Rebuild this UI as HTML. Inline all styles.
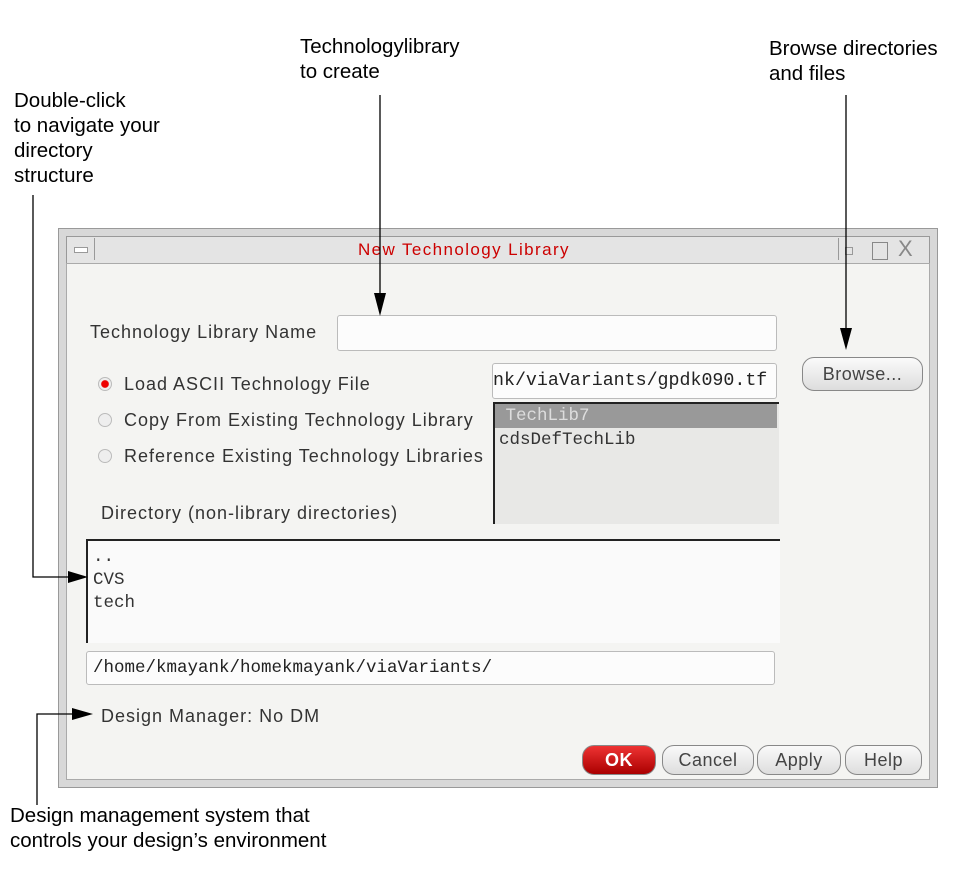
<!DOCTYPE html><html><head><style>
body{margin:0;width:958px;height:871px;background:#fff;position:relative;font-family:"Liberation Sans",sans-serif;overflow:hidden}
.a{position:absolute}
.t{font-size:20.5px;color:#000;line-height:25px;white-space:nowrap}
.d{font-size:18px;letter-spacing:1px;color:#333;white-space:nowrap}
.m{font-family:"Liberation Mono",monospace;font-size:17.5px;color:#333;white-space:nowrap}
.fld{background:#fcfcfc;border:1px solid #bbb;border-radius:3px}
.btn{border:1px solid #888;border-radius:12px;background:linear-gradient(#fafafa,#ddd);font-size:18px;letter-spacing:.5px;color:#444;text-align:center;line-height:32px;height:32px}
.rad{width:12px;height:12px;border-radius:50%;border:1px solid #bbb;background:#eee}
</style></head><body>
<div class="a t" style="left:300px;top:34px">Technologylibrary<br>to create</div>
<div class="a t" style="left:769px;top:36px">Browse directories<br>and files</div>
<div class="a t" style="left:14px;top:88px">Double-click<br>to navigate your<br>directory<br>structure</div>
<div class="a t" style="left:10px;top:803px">Design management system that<br>controls your design’s environment</div>

<div class="a" style="left:58px;top:228px;width:878px;height:558px;background:#d8d8d8;border:1px solid #999"></div>
<div class="a" style="left:66px;top:236px;width:862px;height:26px;background:#e4e4e4;border:1px solid #999"></div>
<div class="a" style="left:68px;top:238px;width:26px;height:22px;border-right:1px solid #999"></div>
<div class="a" style="left:74px;top:247px;width:12px;height:4px;border:1px solid #999;background:#fff"></div>
<div class="a" style="left:838px;top:238px;width:88px;height:22px;border-left:1px solid #999"></div>
<div class="a" style="left:845px;top:247px;width:6px;height:6px;border:1px solid #999"></div>
<div class="a" style="left:872px;top:242px;width:14px;height:16px;border:1px solid #888"></div>
<div class="a" style="left:898px;top:236px;font-size:22px;color:#888">X</div>
<div class="a" style="left:358px;top:240px;font-size:17px;letter-spacing:1.4px;color:#c00">New Technology Library</div>
<div class="a" style="left:66px;top:263px;width:862px;height:515px;background:#f4f4f2;border:1px solid #aaa"></div>

<div class="a d" style="left:90px;top:322px">Technology Library Name</div>
<div class="a fld" style="left:337px;top:315px;width:438px;height:34px"></div>
<div class="a rad" style="left:98px;top:377px;background:radial-gradient(#e00 40%,#eee 50%)"></div>
<div class="a d" style="left:124px;top:374px">Load ASCII Technology File</div>
<div class="a rad" style="left:98px;top:413px"></div>
<div class="a d" style="left:124px;top:410px">Copy From Existing Technology Library</div>
<div class="a rad" style="left:98px;top:449px"></div>
<div class="a d" style="left:124px;top:446px">Reference Existing Technology Libraries</div>
<div class="a fld m" style="left:492px;top:363px;width:283px;height:34px;line-height:34px;overflow:hidden;color:#222;font-size:18.3px">nk/viaVariants/gpdk090.tf</div>
<div class="a" style="left:493px;top:402px;width:284px;height:120px;background:#e8e8e6;border-left:2px solid #222;border-top:2px solid #222"></div>
<div class="a m" style="left:495px;top:404px;width:282px;height:24px;background:#999;color:#ddd;line-height:24px">&nbsp;TechLib7</div>
<div class="a m" style="left:499px;top:430px">cdsDefTechLib</div>
<div class="a btn" style="left:802px;top:357px;width:119px">Browse...</div>
<div class="a d" style="left:101px;top:503px">Directory (non-library directories)</div>
<div class="a" style="left:86px;top:539px;width:692px;height:102px;background:#fafafa;border-left:2px solid #222;border-top:2px solid #222"></div>
<div class="a m" style="left:93px;top:546px;line-height:23px;color:#333">..<br>CVS<br>tech</div>
<div class="a fld m" style="left:86px;top:651px;width:689px;height:34px;line-height:32px;color:#222;padding-left:6px;box-sizing:border-box">/home/kmayank/homekmayank/viaVariants/</div>
<div class="a d" style="left:101px;top:706px">Design Manager: No DM</div>
<div class="a btn" style="left:582px;top:745px;width:72px;height:28px;line-height:28px;background:linear-gradient(#e33,#a00);color:#fff;font-weight:bold">OK</div>
<div class="a btn" style="left:662px;top:745px;width:90px;height:28px;line-height:28px">Cancel</div>
<div class="a btn" style="left:757px;top:745px;width:82px;height:28px;line-height:28px">Apply</div>
<div class="a btn" style="left:845px;top:745px;width:75px;height:28px;line-height:28px">Help</div>

<svg class="a" style="left:0;top:0" width="958" height="871">
<g stroke="#000" stroke-width="1.3" fill="none">
<path d="M380 95V300"/><path d="M846 95V335"/><path d="M33 195V577H70"/><path d="M37 805V714H76"/>
</g>
<g fill="#000">
<path d="M374 293L386 293L380 316Z"/><path d="M840 328L852 328L846 350Z"/>
<path d="M68 571L68 583L88 577Z"/><path d="M72 708L72 720L93 714Z"/>
</g></svg>
</body></html>
